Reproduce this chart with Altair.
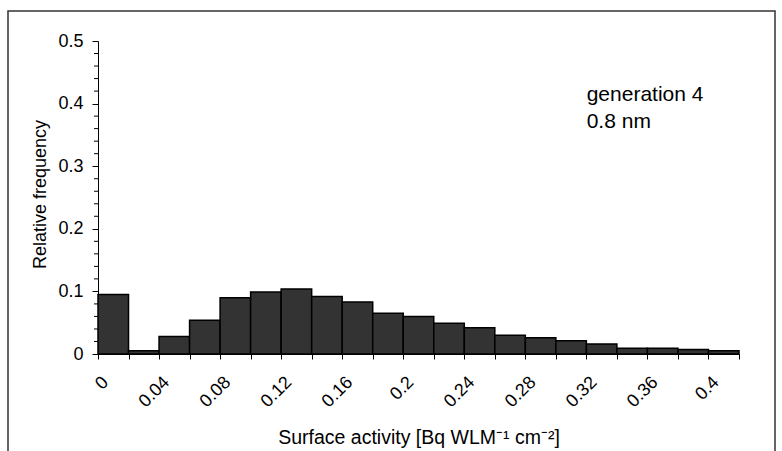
import altair as alt
import pandas as pd

# Histogram bins (Surface activity) and relative frequency
bin_start = [0.00, 0.02, 0.04, 0.06, 0.08, 0.10, 0.12, 0.14, 0.16, 0.18, 0.20,
             0.22, 0.24, 0.26, 0.28, 0.30, 0.32, 0.34, 0.36, 0.38, 0.40]
bin_end = [0.02, 0.04, 0.06, 0.08, 0.10, 0.12, 0.14, 0.16, 0.18, 0.20, 0.22,
           0.24, 0.26, 0.28, 0.30, 0.32, 0.34, 0.36, 0.38, 0.40, 0.42]
rel_freq = [0.095, 0.005, 0.028, 0.054, 0.090, 0.099, 0.104, 0.092, 0.083, 0.065, 0.060,
            0.049, 0.042, 0.030, 0.026, 0.021, 0.016, 0.009, 0.009, 0.007, 0.005]

x_tick_values = [0.00, 0.02, 0.04, 0.06, 0.08, 0.10, 0.12, 0.14, 0.16, 0.18, 0.20,
                 0.22, 0.24, 0.26, 0.28, 0.30, 0.32, 0.34, 0.36, 0.38, 0.40, 0.42]
y_major_ticks = [0.0, 0.1, 0.2, 0.3, 0.4, 0.5]
y_minor_ticks = [0.02, 0.04, 0.06, 0.08, 0.12, 0.14, 0.16, 0.18,
                 0.22, 0.24, 0.26, 0.28, 0.32, 0.34, 0.36, 0.38,
                 0.42, 0.44, 0.46, 0.48]

annotation_lines = ["generation 4", "0.8 nm"]
annotation_x = [0.3202]
annotation_y = [0.404]

x_title = "Surface activity [Bq WLM\u207b\u00b9 cm\u207b\u00b2]"
y_title = "Relative frequency"

FONT = "Liberation Sans"

df = pd.DataFrame({"start": bin_start, "end": bin_end, "freq": rel_freq})
ann = pd.DataFrame({"x": annotation_x, "y": annotation_y})
minor = pd.DataFrame({"v": y_minor_ticks})

x_scale = alt.Scale(domain=[0, 0.42], nice=False, zero=False)
y_scale = alt.Scale(domain=[0, 0.5], nice=False)

x_axis = alt.Axis(
    values=x_tick_values,
    format="~g",
    labelExpr="round(datum.value*100) % 4 == 0 ? datum.label : ''",
    labelAngle=-45,
    labelFont=FONT,
    labelFontSize=18,
    labelColor="black",
    labelPadding=14,
    labelOffset=1,
    labelOverlap=False,
    tickSize=5,
    tickColor="black",
    domainColor="black",
    grid=False,
    title=x_title,
    titleFont=FONT,
    titleFontSize=19.5,
    titleFontWeight="normal",
    titleColor="black",
    titleY=89,
    titleBaseline="alphabetic",
)

y_axis = alt.Axis(
    values=y_major_ticks,
    format="~g",
    labelFont=FONT,
    labelFontSize=18,
    labelColor="black",
    labelPadding=9,
    labelOverlap=False,
    tickSize=6,
    tickColor="black",
    domainColor="black",
    grid=False,
    title=y_title,
    titleFont=FONT,
    titleFontSize=18,
    titleFontWeight="normal",
    titleColor="black",
    titleX=-53,
    titleY=153,
    titleBaseline="alphabetic",
)

frame = alt.Chart(pd.DataFrame({"k": [0]})).mark_rect(
    fillOpacity=0, stroke="#333333", strokeWidth=1.5
).encode(
    x=alt.value(-90), x2=alt.value(677), y=alt.value(-30), y2=alt.value(470)
)

bars = alt.Chart(df).mark_rect(
    fill="#333333", stroke="black", strokeWidth=1.5
).encode(
    x=alt.X("start:Q", scale=x_scale, axis=x_axis),
    x2="end:Q",
    y=alt.Y("freq:Q", scale=y_scale, axis=y_axis),
    y2=alt.datum(0),
)

minor_ticks = alt.Chart(minor).mark_rule(color="black", strokeWidth=1).encode(
    y=alt.Y("v:Q", scale=y_scale, axis=y_axis),
    x=alt.value(-4),
    x2=alt.value(0),
)

label = alt.Chart(ann).mark_text(
    text=annotation_lines, align="left", baseline="alphabetic",
    font=FONT, fontSize=21, lineHeight=27, color="black"
).encode(
    x=alt.X("x:Q", scale=x_scale, axis=x_axis),
    y=alt.Y("y:Q", scale=y_scale, axis=y_axis),
)

chart = alt.layer(frame, bars, minor_ticks, label).properties(
    width=641,
    height=313,
    autosize=alt.AutoSizeParams(type="none"),
    padding={"left": 98, "top": 41, "right": 43, "bottom": 97},
    background="white",
).configure_view(stroke=None)

chart.save("out.html", embed_options={"renderer": "svg", "actions": False})
